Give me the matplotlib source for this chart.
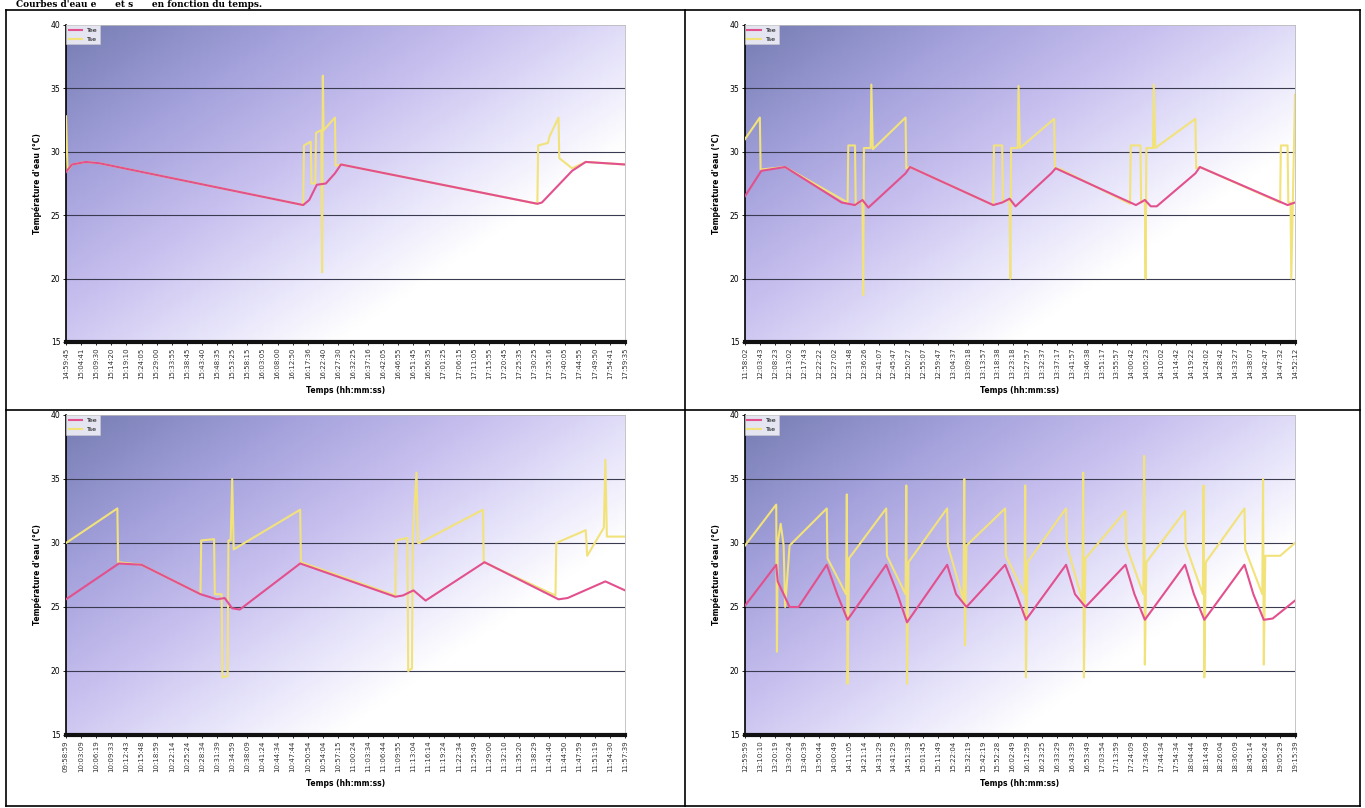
import numpy as np
import matplotlib.pyplot as plt
from matplotlib.colors import LinearSegmentedColormap

# tick labels (hh:mm:ss) of the four charts
labels1 = ["14:59:45", "15:04:41", "15:09:30", "15:14:20", "15:19:10", "15:24:05", "15:29:00", "15:33:55",
           "15:38:45", "15:43:40", "15:48:35", "15:53:25", "15:58:15", "16:03:05", "16:08:00", "16:12:50",
           "16:17:36", "16:22:40", "16:27:30", "16:32:25", "16:37:16", "16:42:05", "16:46:55", "16:51:45",
           "16:56:35", "17:01:25", "17:06:15", "17:11:05", "17:15:55", "17:20:45", "17:25:35", "17:30:25",
           "17:35:16", "17:40:05", "17:44:55", "17:49:50", "17:54:41", "17:59:35"]
labels2 = ["11:58:02", "12:03:43", "12:08:23", "12:13:02", "12:17:43", "12:22:22", "12:27:02", "12:31:48",
           "12:36:26", "12:41:07", "12:45:47", "12:50:27", "12:55:07", "12:59:47", "13:04:37", "13:09:18",
           "13:13:57", "13:18:38", "13:23:18", "13:27:57", "13:32:37", "13:37:17", "13:41:57", "13:46:38",
           "13:51:17", "13:55:57", "14:00:42", "14:05:23", "14:10:02", "14:14:42", "14:19:22", "14:24:02",
           "14:28:42", "14:33:27", "14:38:07", "14:42:47", "14:47:32", "14:52:12"]
labels3 = ["09:58:59", "10:03:09", "10:06:19", "10:09:33", "10:12:43", "10:15:48", "10:18:59", "10:22:14",
           "10:25:24", "10:28:34", "10:31:39", "10:34:59", "10:38:09", "10:41:24", "10:44:34", "10:47:44",
           "10:50:54", "10:54:04", "10:57:15", "11:00:24", "11:03:34", "11:06:44", "11:09:55", "11:13:04",
           "11:16:14", "11:19:24", "11:22:34", "11:25:49", "11:29:00", "11:32:10", "11:35:20", "11:38:29",
           "11:41:40", "11:44:50", "11:47:59", "11:51:19", "11:54:30", "11:57:39"]
labels4 = ["12:59:59", "13:10:10", "13:20:19", "13:30:24", "13:40:39", "13:50:44", "14:00:49", "14:11:05",
           "14:21:14", "14:31:29", "14:41:29", "14:51:39", "15:01:45", "15:11:49", "15:22:04", "15:32:19",
           "15:42:19", "15:52:28", "16:02:49", "16:12:59", "16:23:25", "16:33:29", "16:43:39", "16:53:49",
           "17:03:54", "17:13:59", "17:24:09", "17:34:09", "17:44:34", "17:54:34", "18:04:44", "18:14:49",
           "18:26:04", "18:36:09", "18:45:14", "18:56:24", "19:05:29", "19:15:39"]

# chart 1 (top left)
x1_tee = [0, 0.4, 1.3, 2.2, 15.7, 16.1, 16.6, 17.2, 17.8, 18.2, 31.2, 31.5, 33.5, 34.4, 37]
y1_tee = [28.4, 29.0, 29.2, 29.1, 25.8, 26.2, 27.4, 27.5, 28.3, 29.0, 25.9, 26.0, 28.5, 29.2, 29.0]
x1_tse = [0, 0.1, 0.4, 1.3, 2.2, 15.7, 15.75, 16.2, 16.25, 16.5, 16.55, 16.9, 16.95, 17.0, 17.05,
          17.8, 17.85, 18.2, 31.2, 31.25, 31.9, 32.0, 32.6, 32.65, 33.5, 34.4, 37]
y1_tse = [32.8, 28.5, 29.0, 29.2, 29.1, 25.8, 30.5, 30.8, 27.5, 27.5, 31.5, 31.7, 20.5, 36.0, 31.7,
          32.7, 28.9, 29.0, 25.9, 30.5, 30.7, 31.2, 32.7, 29.5, 28.7, 29.2, 29.0]

# chart 2 (top right)
x2_tee = [0, 1.1, 2.7, 6.5, 7.4, 7.9, 8.3, 10.8, 11.1, 16.7, 17.3, 17.8, 18.2, 20.6, 20.9,
          26.3, 26.9, 27.3, 27.7, 30.3, 30.6, 36.5, 37]
y2_tee = [26.5, 28.5, 28.8, 26.0, 25.8, 26.2, 25.6, 28.3, 28.8, 25.8, 26.0, 26.3, 25.7, 28.3, 28.7,
          25.8, 26.2, 25.7, 25.7, 28.3, 28.8, 25.8, 26.0]
x2_tse = [0, 1.0, 1.05, 2.7, 6.9, 6.95, 7.4, 7.45, 7.9, 7.95, 8.0, 8.45, 8.5, 8.6, 10.8, 10.85, 11.1,
          16.7, 16.75, 17.3, 17.35, 17.8, 17.85, 17.9, 18.35, 18.4, 18.5, 20.8, 20.85, 21.1,
          25.9, 25.95, 26.6, 26.65, 26.9, 26.95, 27.0, 27.45, 27.5, 27.6, 30.3, 30.35, 30.6,
          36.0, 36.05, 36.5, 36.55, 36.7, 36.75, 37]
y2_tse = [31.0, 32.7, 28.6, 28.8, 26.0, 30.5, 30.5, 25.8, 26.2, 18.7, 30.3, 30.3, 35.3, 30.2, 32.7, 28.7, 28.8,
          25.8, 30.5, 30.5, 26.0, 26.3, 20.0, 30.3, 30.3, 35.2, 30.3, 32.6, 28.6, 28.7,
          25.9, 30.5, 30.5, 26.0, 26.2, 20.0, 30.3, 30.3, 35.3, 30.3, 32.6, 28.7, 28.8,
          26.0, 30.5, 30.5, 26.0, 26.0, 20.0, 34.5]

# chart 3 (bottom left)
x3_tee = [0, 3.5, 5.0, 8.9, 10.0, 10.5, 11.0, 11.5, 15.5, 21.8, 22.3, 23.0, 23.8, 27.7, 32.6, 33.2, 35.7, 37]
y3_tee = [25.6, 28.4, 28.3, 26.0, 25.6, 25.7, 24.9, 24.8, 28.4, 25.8, 25.9, 26.3, 25.5, 28.5, 25.6, 25.7, 27.0, 26.3]
x3_tse = [0, 3.4, 3.45, 5.0, 8.9, 8.95, 9.8, 9.85, 10.3, 10.35, 10.7, 10.75, 10.9, 11.0, 11.1, 15.5, 15.55,
          21.8, 21.85, 22.6, 22.65, 22.9, 22.95, 23.2, 23.3, 23.4, 27.6, 27.65, 32.4, 32.45, 34.4, 34.5,
          35.6, 35.7, 35.8, 37]
y3_tse = [30.0, 32.7, 28.5, 28.3, 26.0, 30.2, 30.3, 26.0, 26.0, 19.5, 19.6, 30.2, 30.2, 35.0, 29.5, 32.6, 28.5,
          25.9, 30.2, 30.4, 20.0, 20.2, 30.5, 35.5, 30.0, 30.0, 32.6, 28.5, 25.9, 30.0, 31.0, 29.0,
          31.2, 36.5, 30.5, 30.5]

# chart 4 (bottom right)
x4_tee = [0, 2.1, 2.2, 3.0, 3.6, 5.5, 6.2, 6.9, 9.5, 10.2, 10.9, 13.6, 14.2, 14.9, 17.5, 18.2, 18.9,
          21.6, 22.2, 22.9, 25.6, 26.2, 26.9, 29.6, 30.2, 30.9, 33.6, 34.2, 34.9, 35.5, 37]
y4_tee = [25.1, 28.3, 27.0, 25.0, 25.0, 28.3, 26.0, 24.0, 28.3, 26.2, 23.8, 28.3, 26.0, 25.0, 28.3, 26.2, 24.0,
          28.3, 26.0, 25.0, 28.3, 26.0, 24.0, 28.3, 26.0, 24.0, 28.3, 26.0, 24.0, 24.1, 25.5]
x4_tse = [0, 2.1, 2.15, 2.2, 2.4, 2.6, 2.7, 3.0, 5.5, 5.55, 6.8, 6.85, 6.9, 7.0, 9.5, 9.55,
          10.8, 10.85, 10.9, 11.0, 13.6, 13.65, 14.7, 14.75, 14.8, 14.9, 17.5, 17.55,
          18.8, 18.85, 18.9, 19.0, 21.6, 21.65, 22.7, 22.75, 22.8, 22.9, 25.6, 25.65,
          26.8, 26.85, 26.9, 27.0, 29.6, 29.65, 30.8, 30.85, 30.9, 31.0, 33.6, 33.65,
          34.8, 34.85, 34.9, 35.0, 36.0, 37]
y4_tse = [29.8, 33.0, 21.5, 30.0, 31.5, 29.8, 25.0, 29.8, 32.7, 28.8, 26.0, 33.8, 19.0, 28.8, 32.7, 29.0,
          26.0, 34.5, 19.0, 28.5, 32.7, 29.8, 25.5, 35.0, 22.0, 29.8, 32.7, 29.0,
          26.0, 34.5, 19.5, 28.5, 32.7, 29.8, 25.5, 35.5, 19.5, 28.8, 32.5, 29.8,
          26.0, 36.8, 20.5, 28.5, 32.5, 29.8, 26.0, 34.5, 19.5, 28.5, 32.7, 29.5,
          26.0, 35.0, 20.5, 29.0, 29.0, 30.0]

charts = [
    (labels1, x1_tee, y1_tee, x1_tse, y1_tse),
    (labels2, x2_tee, y2_tee, x2_tse, y2_tse),
    (labels3, x3_tee, y3_tee, x3_tse, y3_tse),
    (labels4, x4_tee, y4_tee, x4_tse, y4_tse),
]

W, H = 1365, 808
fig = plt.figure(figsize=(W / 100, H / 100), dpi=100)
fig.patch.set_facecolor("white")

# page text above the table
fig.text(0.012, 0.9995, "Courbes d'eau e      et s      en fonction du temps.", fontsize=6.5,
         family="DejaVu Serif", weight="bold", va="top", ha="left")

# table frame
def hline(y, x0, x1, lw=1.2):
    fig.add_artist(plt.Line2D([x0 / W, x1 / W], [1 - y / H, 1 - y / H], color="black", lw=lw))

def vline(x, y0, y1, lw=1.2):
    fig.add_artist(plt.Line2D([x / W, x / W], [1 - y0 / H, 1 - y1 / H], color="black", lw=lw))

hline(10, 6, 1360)
hline(410, 6, 1360)
hline(806, 6, 1360)
vline(6, 10, 806)
vline(685, 10, 806)
vline(1360, 10, 806)

# background gradient of the plot areas
bg = LinearSegmentedColormap.from_list("bg", [
    (0.0, (0.46, 0.49, 0.70)),
    (0.22, (0.64, 0.63, 0.86)),
    (0.42, (0.79, 0.76, 0.94)),
    (0.58, (0.90, 0.89, 0.98)),
    (0.72, (1.0, 1.0, 1.0)),
    (1.0, (1.0, 1.0, 1.0)),
])
gx, gy = np.meshgrid(np.linspace(0, 1, 200), np.linspace(1, 0, 120))
grad = np.clip((gx * 0.9 + (1 - gy) * 0.75) / 1.65, 0, 1)

boxes = [(66, 25, 625, 342), (745, 25, 1295, 342), (66, 415, 625, 735), (745, 415, 1295, 735)]

for (x0, y0, x1, y1), (labels, xt, yt, xs, ys) in zip(boxes, charts):
    ax = fig.add_axes([x0 / W, 1 - y1 / H, (x1 - x0) / W, (y1 - y0) / H])
    ax.imshow(grad, extent=[0, 1, 0, 1], transform=ax.transAxes, cmap=bg, aspect="auto", zorder=0)
    ax.plot(xs, ys, color="#f2e27a", lw=1.5, label="Tse", zorder=3)
    ax.plot(xt, yt, color="#e2508e", lw=1.5, label="Tee", zorder=4)
    ax.set_xlim(0, 37)
    ax.set_ylim(15, 40)
    ax.set_yticks([15, 20, 25, 30, 35, 40])
    ax.set_yticklabels(["15", "20", "25", "30", "35", "40"], fontsize=5.5)
    for v in [20, 25, 30, 35]:
        ax.axhline(v, color="#3a3a50", lw=0.8, zorder=2)
    ax.set_xticks(range(len(labels)))
    ax.set_xticklabels(labels, rotation=90, fontsize=5, color="#333333")
    ax.tick_params(axis="both", length=2, width=0.6, pad=2)
    ax.set_ylabel("Température d'eau (°C)", fontsize=5.5, weight="bold", labelpad=6)
    ax.set_xlabel("Temps (hh:mm:ss)", fontsize=5.5, weight="bold", labelpad=5)
    ax.spines["bottom"].set_linewidth(3)
    ax.spines["bottom"].set_color("#111111")
    ax.spines["left"].set_linewidth(1.2)
    for s in ["top", "right"]:
        ax.spines[s].set_color("#bbbbbb")
        ax.spines[s].set_linewidth(0.6)
    h, l = ax.get_legend_handles_labels()
    leg = ax.legend(h[::-1], l[::-1], loc="upper left", fontsize=4.5, frameon=True, fancybox=False,
                    borderpad=0.4, handlelength=2.2, labelspacing=0.6, borderaxespad=0)
    leg.get_frame().set_edgecolor("#cccccc")
    leg.get_frame().set_linewidth(0.5)

fig.savefig("out.png", dpi=100)
